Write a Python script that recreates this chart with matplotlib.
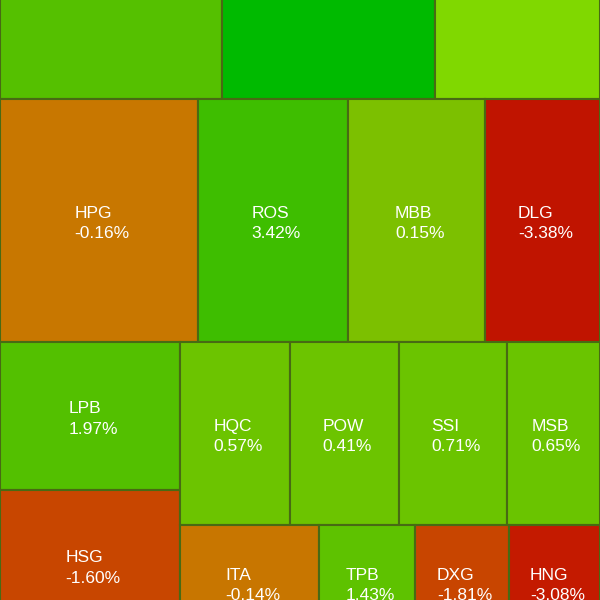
import matplotlib
matplotlib.use("Agg")
import matplotlib.pyplot as plt
from matplotlib.patches import Rectangle

# ---- data ----
tickers = ["", "", "", "HPG", "ROS", "MBB", "DLG", "LPB", "HSG",
           "HQC", "POW", "SSI", "MSB", "ITA", "TPB", "DXG", "HNG"]
changes = [None, None, None, -0.16, 3.42, 0.15, -3.38, 1.97, -1.60,
           0.57, 0.41, 0.71, 0.65, -0.14, 1.43, -1.81, -3.08]
weights = [57.5, 55.2, 42.7, 48.1, 36.5, 33.3, 27.9, 26.6, 27.0,
           20.1, 19.9, 19.8, 17.0, 16.0, 11.0, 10.8, 10.5]
colors = ["#55c000", "#00ba00", "#80d800", "#c87700", "#3ebe00", "#7cc000",
          "#c01400", "#53c000", "#c84600", "#6cc400", "#6cc400", "#6bc400",
          "#6ac400", "#c87600", "#5ec200", "#c84500", "#c41a00"]

# nested slice layout: ('v' = stack top-to-bottom, 'h' = side by side)
tree = ("v", [
    ("h", [0, 1, 2]),
    ("h", [3, 4, 5, 6]),
    ("h", [
        ("v", [7, 8]),
        ("v", [("h", [9, 10, 11, 12]), ("h", [13, 14, 15, 16])]),
    ]),
])

W, H = 600, 800          # full treemap canvas
VIEW_TOP = 160           # visible window starts here

def size(node):
    if isinstance(node, int):
        return weights[node]
    return sum(size(c) for c in node[1])

rects = {}
def layout(node, x, y, w, h):
    if isinstance(node, int):
        rects[node] = (x, y, w, h)
        return
    orient, children = node
    total = size(node)
    pos = 0.0
    for c in children:
        f = size(c) / total
        if orient == "h":
            layout(c, x + pos * w, y, f * w, h)
        else:
            layout(c, x, y + pos * h, w, f * h)
        pos += f

layout(tree, 0, 0, W, H)

fig = plt.figure(figsize=(6, 6), dpi=100)
ax = fig.add_axes([0, 0, 1, 1])
ax.set_xlim(0, W)
ax.set_ylim(VIEW_TOP + 600, VIEW_TOP)
ax.axis("off")

for i, (x, y, w, h) in rects.items():
    ax.add_patch(Rectangle((x, y), w, h, facecolor=colors[i],
                           edgecolor="#486a14", linewidth=1.5))
    if tickers[i]:
        ax.text(x + w / 2 + 3, y + h / 2 + 3,
                f"{tickers[i]}\n{changes[i]:.2f}%",
                ha="center", va="center", multialignment="left",
                color="white", fontsize=12.5, linespacing=1.45,
                family=["Liberation Sans", "DejaVu Sans"], clip_on=True)

fig.savefig("out.png", dpi=100)
